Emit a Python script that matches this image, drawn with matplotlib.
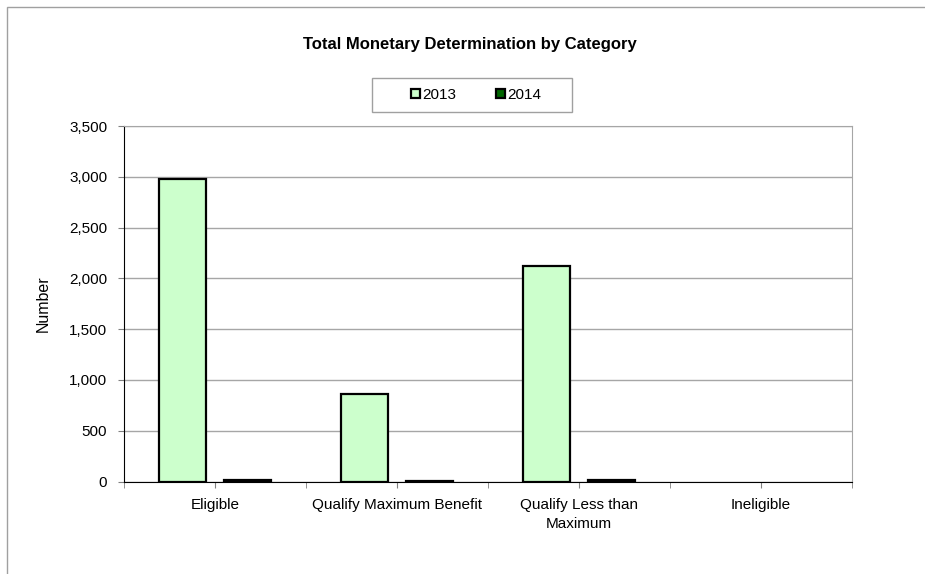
import numpy as np
import matplotlib
matplotlib.use("Agg")
import matplotlib.pyplot as plt
from matplotlib.patches import Rectangle
from matplotlib.ticker import FuncFormatter

plt.rcParams['font.family'] = ['Liberation Sans', 'DejaVu Sans']

# 数据
categories = ["Eligible", "Qualify Maximum Benefit", "Qualify Less than\nMaximum", "Ineligible"]
years = ["2013", "2014"]
values_2013 = [2980, 860, 2120, 0]
values_2014 = [12, 8, 10, 0]
colors = ["#ccffcc", "#006600"]

fig = plt.figure(figsize=(9.25, 5.74), dpi=100)
ax = fig.add_axes([124 / 925, 1 - 481.5 / 574, 728 / 925, 355.5 / 574])

# 外框 (只看到左边和上边)
fig.patches.append(Rectangle((7 / 925, -0.2), 1.2, 1.2 - 7 / 574,
                             transform=fig.transFigure, fill=False,
                             edgecolor="#a0a0a0", linewidth=1))

x = np.arange(len(categories))
w = 0.255
off = 0.179
for vals, c, lab, sign in [(values_2013, colors[0], years[0], -1), (values_2014, colors[1], years[1], 1)]:
    lw = [1.6 if v > 0 else 0 for v in vals]
    ax.bar(x + sign * off, vals, w, color=c, edgecolor="black", linewidth=lw, label=lab, zorder=3)

ax.set_xlim(-0.5, 3.5)
ax.set_ylim(0, 3500)
ax.set_yticks(np.arange(0, 3501, 500))
ax.yaxis.set_major_formatter(FuncFormatter(lambda v, p: f"{int(v):,}"))
ax.set_xticks(x)
ax.set_xticks(np.arange(-0.5, 3.6, 1), minor=True)
ax.set_xticklabels(categories, fontsize=11, linespacing=1.45)
ax.tick_params(axis="y", labelsize=11, length=4, direction="out", color="#808080", pad=8)
ax.tick_params(axis="x", which="both", length=4, direction="out", color="#808080", pad=8)
ax.grid(axis="y", color="#a6a6a6", linewidth=1, zorder=0)
ax.set_axisbelow(True)

for s in ["top", "right"]:
    ax.spines[s].set_color("#a6a6a6")
ax.spines["left"].set_color("black")
ax.spines["bottom"].set_color("black")
ax.spines["bottom"].set_zorder(4)

ax.set_ylabel("Number", fontsize=11.5, labelpad=13)

fig.text(470 / 925, 1 - 45 / 574, "Total Monetary Determination by Category",
         ha="center", va="center", fontsize=12, fontweight="bold")

# 图例
fig.patches.append(Rectangle((372 / 925, 1 - 112 / 574), 200 / 925, 34 / 574,
                             transform=fig.transFigure, fill=False,
                             edgecolor="#a0a0a0", linewidth=1))
leg = fig.legend(loc="center", bbox_to_anchor=(476 / 925, 1 - 95 / 574), ncol=2,
                 fontsize=11, frameon=False,
                 handlelength=0.6, handleheight=0.6, handletextpad=0.15,
                 columnspacing=2.6)
for h in leg.legend_handles:
    h.set_linewidth(1.6)

fig.savefig("out.png", dpi=100)
